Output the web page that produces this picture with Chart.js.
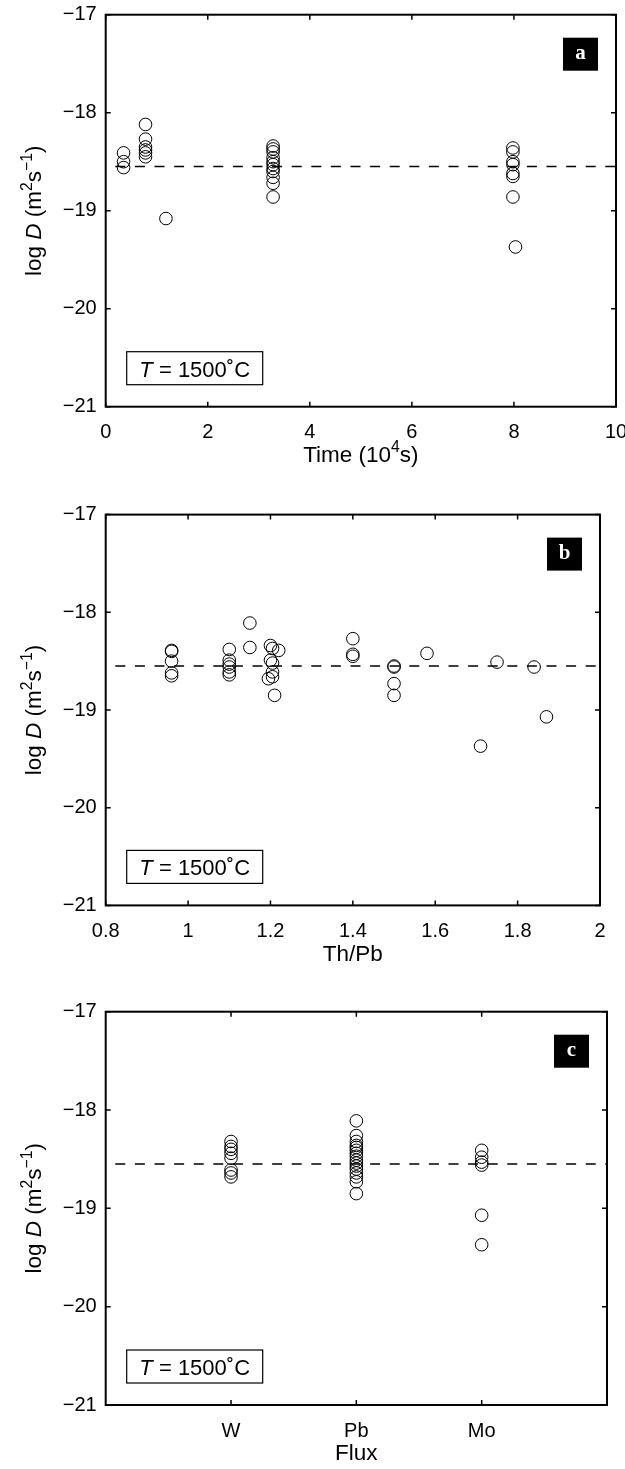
<!DOCTYPE html>
<html>
<head>
<meta charset="utf-8">
<script src="https://cdn.jsdelivr.net/npm/chart.js@4.4.0/dist/chart.umd.min.js"></script>
<style>
  body { margin: 0; background: #fff; width: 625px; height: 1469px; overflow: hidden; position: relative; }
  canvas { position: absolute; left: 0; }
</style>
</head>
<body>
<canvas id="chartTime" width="625" height="500" style="top:0"></canvas>
<canvas id="chartRatio" width="625" height="500" style="top:500px"></canvas>
<canvas id="chartFlux" width="625" height="469" style="top:1000px"></canvas>
<script>
// --- data ---
const meanLogD = -18.55;
const logDTicks = [-21, -20, -19, -18, -17];

// panel a: time (10^4 s)
const timeTicks = [0, 2, 4, 6, 8, 10];
const timeX = [0.35, 0.35, 0.35,
  0.78, 0.78, 0.78, 0.78, 0.78, 0.78,
  1.18,
  3.28, 3.28, 3.28, 3.28, 3.28, 3.28, 3.28, 3.28, 3.28, 3.28, 3.28,
  7.98, 7.98, 7.98, 7.98, 7.98, 7.98, 7.98,
  8.03];
const timeLogD = [-18.41, -18.50, -18.56,
  -18.12, -18.27, -18.35, -18.38, -18.41, -18.45,
  -19.08,
  -18.34, -18.37, -18.40, -18.46, -18.50, -18.53, -18.57, -18.60, -18.66, -18.72, -18.86,
  -18.36, -18.40, -18.50, -18.53, -18.62, -18.65, -18.86,
  -19.37];

// panel b: Th/Pb
const ratioTicks = [0.8, 1, 1.2, 1.4, 1.6, 1.8, 2];
const ratioTickLabels = ['0.8', '1', '1.2', '1.4', '1.6', '1.8', '2'];
const ratioX = [0.96, 0.96, 0.96, 0.96, 0.96,
  1.10, 1.10, 1.10, 1.10, 1.10, 1.10,
  1.15, 1.15,
  1.20, 1.205, 1.22, 1.20, 1.205, 1.205, 1.195, 1.205, 1.21,
  1.40, 1.40, 1.40,
  1.50, 1.50, 1.50, 1.50,
  1.58, 1.71, 1.75, 1.84, 1.87];
const ratioLogD = [-18.39, -18.40, -18.50, -18.62, -18.65,
  -18.38, -18.49, -18.53, -18.56, -18.61, -18.64,
  -18.11, -18.36,
  -18.34, -18.37, -18.39, -18.49, -18.52, -18.61, -18.68, -18.66, -18.85,
  -18.27, -18.43, -18.45,
  -18.55, -18.56, -18.73, -18.85,
  -18.42, -19.37, -18.51, -18.56, -19.07];

// panel c: flux
const fluxNames = ['W', 'Pb', 'Mo'];
const fluxW = [-18.32, -18.37, -18.40, -18.44, -18.49, -18.61, -18.64, -18.68];
const fluxPb = [-18.11, -18.26, -18.32, -18.36, -18.38, -18.41, -18.44, -18.47,
  -18.51, -18.54, -18.57, -18.60, -18.64, -18.68, -18.73, -18.85];
const fluxMo = [-18.41, -18.48, -18.53, -18.56, -19.07, -19.37];

const FONT = 'Liberation Sans, Arial, Helvetica, sans-serif';
const SIZE = 20;
const TITLE_SIZE = 22.5;

// draw a run of text pieces (italic / superscript) centred on cx, cy
function drawRich(ctx, parts, cx, cy, size) {
  const fontFor = p => (p.it ? 'italic ' : '') + (p.sup ? size * 0.7 : size) + 'px ' + FONT;
  let w = 0;
  parts.forEach(p => { ctx.font = fontFor(p); w += ctx.measureText(p.t).width; });
  let x = cx - w / 2;
  ctx.textAlign = 'left';
  ctx.textBaseline = 'alphabetic';
  parts.forEach(p => {
    ctx.font = fontFor(p);
    ctx.fillText(p.t, x, cy + size * 0.36 - (p.sup ? size * 0.42 : 0));
    x += ctx.measureText(p.t).width;
  });
}

const yTitle = [{ t: 'log ' }, { t: 'D', it: true }, { t: ' (m' }, { t: '2', sup: true },
  { t: 's' }, { t: '\u22121', sup: true }, { t: ')' }];
const tempLabel = [{ t: 'T', it: true }, { t: ' = 1500' }, { t: '\u02DA' }, { t: 'C' }];

const framePlugin = {
  id: 'frame',
  afterDraw(chart, args, opts) {
    const { ctx, chartArea: a, scales } = chart;
    ctx.save();
    ctx.strokeStyle = '#000';
    ctx.fillStyle = '#000';
    ctx.lineWidth = 2;
    ctx.strokeRect(a.left, a.top, a.width, a.height);

    // inward ticks on all four sides
    ctx.lineWidth = 1.5;
    ctx.beginPath();
    scales.x.ticks.forEach(t => {
      const px = scales.x.getPixelForValue(t.value);
      ctx.moveTo(px, a.bottom); ctx.lineTo(px, a.bottom - 5);
      ctx.moveTo(px, a.top); ctx.lineTo(px, a.top + 5);
    });
    scales.y.ticks.forEach(t => {
      const py = scales.y.getPixelForValue(t.value);
      ctx.moveTo(a.left, py); ctx.lineTo(a.left + 5, py);
      ctx.moveTo(a.right, py); ctx.lineTo(a.right - 5, py);
    });
    ctx.stroke();

    // panel letter
    const bx = a.right - 18 - 35, by = a.top + 23;
    ctx.fillRect(bx, by, 35, 33);
    ctx.fillStyle = '#fff';
    ctx.font = 'bold 21px Liberation Serif, Times New Roman, serif';
    ctx.textAlign = 'center';
    ctx.textBaseline = 'middle';
    ctx.fillText(opts.letter, bx + 17.5, by + 16);

    // temperature box
    ctx.fillStyle = '#000';
    ctx.lineWidth = 1.2;
    const tx = a.left + 21, ty = a.bottom - 22 - 33;
    ctx.strokeRect(tx, ty, 136, 33);
    drawRich(ctx, tempLabel, tx + 68, ty + 17, 22);

    // axis titles
    drawRich(ctx, opts.xTitle, (a.left + a.right) / 2, a.bottom + 47, TITLE_SIZE);
    ctx.translate(33, (a.top + a.bottom) / 2);
    ctx.rotate(-Math.PI / 2);
    drawRich(ctx, yTitle, 0, 0, TITLE_SIZE);
    ctx.restore();
  }
};

function points(xs, ys) {
  return ys.map((y, i) => ({ x: xs[i], y: y }));
}

function makeChart(id, box, xCfg, pts, letter, xTitle) {
  const canvas = document.getElementById(id);
  return new Chart(canvas, {
    type: 'scatter',
    data: {
      datasets: [{
        type: 'line',
        data: [{ x: xCfg.min, y: meanLogD }, { x: xCfg.max, y: meanLogD }],
        borderColor: '#000',
        borderWidth: 1.5,
        borderDash: [10, 9.6],
        borderDashOffset: 10,
        pointRadius: 0
      }, {
        data: pts,
        pointRadius: 6.3,
        pointBorderWidth: 1,
        pointBorderColor: '#000',
        pointBackgroundColor: 'rgba(0,0,0,0)'
      }]
    },
    options: {
      responsive: false,
      animation: false,
      layout: { padding: { left: 0, top: box.top, right: 625 - box.right, bottom: 0 } },
      plugins: {
        legend: { display: false },
        tooltip: { enabled: false },
        frame: { letter: letter, xTitle: xTitle }
      },
      scales: {
        x: {
          type: 'linear',
          min: xCfg.min,
          max: xCfg.max,
          grid: { display: false, drawTicks: false },
          border: { display: false },
          afterBuildTicks: s => { s.ticks = xCfg.ticks.map(v => ({ value: v })); },
          afterFit: s => {
            s.height = canvas.height - box.bottom;
            s.paddingLeft = 0;
            s.paddingRight = 0;
          },
          ticks: {
            autoSkip: false,
            maxRotation: 0,
            padding: 14,
            color: '#000',
            font: { family: FONT, size: SIZE },
            callback: (v, i) => xCfg.labels[i]
          }
        },
        y: {
          min: -21,
          max: -17,
          grid: { display: false, drawTicks: false },
          border: { display: false },
          afterBuildTicks: s => { s.ticks = logDTicks.map(v => ({ value: v })); },
          afterFit: s => {
            s.width = box.left;
            s.paddingTop = 0;
            s.paddingBottom = 0;
          },
          ticks: {
            padding: 9,
            color: '#000',
            font: { family: FONT, size: SIZE },
            callback: v => '\u2212' + Math.abs(v)
          }
        }
      }
    },
    plugins: [framePlugin]
  });
}

makeChart('chartTime', { top: 14.7, bottom: 406.7, left: 105.7, right: 616 },
  { min: 0, max: 10, ticks: timeTicks, labels: timeTicks.map(String) },
  points(timeX, timeLogD), 'a',
  [{ t: 'Time (10' }, { t: '4', sup: true }, { t: 's)' }]);

makeChart('chartRatio', { top: 14.6, bottom: 405.4, left: 105.7, right: 600 },
  { min: 0.8, max: 2, ticks: ratioTicks, labels: ratioTickLabels },
  points(ratioX, ratioLogD), 'b',
  [{ t: 'Th/Pb' }]);

const fluxPts = []
  .concat(fluxW.map(y => ({ x: 1, y: y })))
  .concat(fluxPb.map(y => ({ x: 2, y: y })))
  .concat(fluxMo.map(y => ({ x: 3, y: y })));

makeChart('chartFlux', { top: 11.7, bottom: 405, left: 105.7, right: 607 },
  { min: 0, max: 4, ticks: [1, 2, 3], labels: fluxNames },
  fluxPts, 'c',
  [{ t: 'Flux' }]);
</script>
</body>
</html>
